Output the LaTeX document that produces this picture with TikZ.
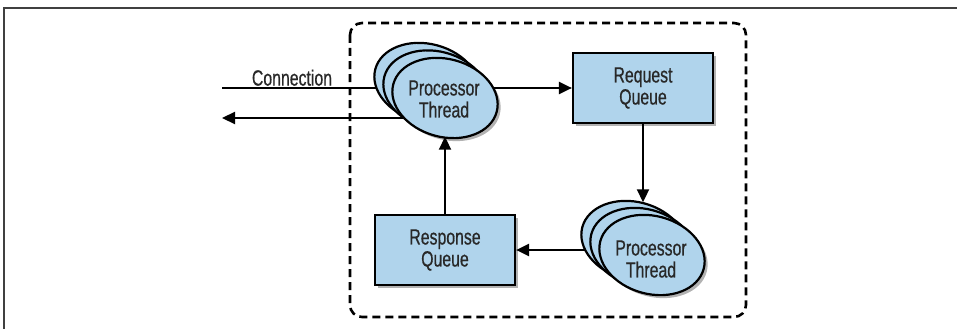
\documentclass[tikz,border=0pt]{standalone}
\usepackage{fontspec}
\setmainfont[FakeStretch=0.72,FakeBold=0.6]{Liberation Sans}
\usepackage{xcolor}
\usetikzlibrary{arrows.meta,shapes.geometric,shadows,backgrounds}
\definecolor{qblue}{RGB}{176,212,236}
\definecolor{txtgray}{RGB}{40,40,40}

\begin{document}
\begin{tikzpicture}[x=1pt,y=-1pt]
\tikzset{
    every node/.style={font=\fontsize{22}{22}\selectfont, text=txtgray, align=center},
    shade/.style={drop shadow={shadow xshift=3pt, shadow yshift=-3pt, opacity=0.3, fill=black}},
    queue/.style={draw, line width=2.2pt, fill=qblue, minimum width=140pt, minimum height=70pt, shade},
    proc/.style={ellipse, draw, line width=2.2pt, fill=qblue, minimum width=107pt, minimum height=78pt, inner sep=0pt, rotate=-15, shade},
    arr/.style={line width=2.2pt, -{Triangle[length=13pt,width=12pt]}}
}
\useasboundingbox (0,0) rectangle (957,329);

% page frame
\draw[line width=1.6pt, black!75] (957,8) -- (4,8) -- (4,329);

% queues
\node[queue] (reqq) at (643,88) {Request\\Queue};
\node[queue] (resq) at (445,250) {Response\\Queue};

% processor threads
\node[proc] (pta3) at (427,83) {};
\node[proc] (pta2) at (436,90.5) {};
\node[proc] (pta)  at (445,98) {};
\node (ptatext) at (444,99) {Processor\\Thread};

\node[proc] (ptb3) at (634,241) {};
\node[proc] (ptb2) at (643,248) {};
\node[proc] (ptb)  at (652,255) {};
\node (ptbtext) at (651,259) {Processor\\Thread};

% connection side
\coordinate (conn) at (222,88);
\coordinate (ret) at (222,118);
\node (conlbl) [above, inner sep=2pt] at (292,88) {Connection};

\begin{scope}[on background layer]
\draw[line width=2.6pt, dash pattern=on 8pt off 5pt, rounded corners=12pt] (350,23) rectangle (746,317);
\draw[arr] (conn) -- (reqq.west);
\draw[arr] (pta.center |- ret) -- (ret);
\draw[arr] (ptb.center |- resq.east) -- (resq.east);
\end{scope}

\draw[arr] (reqq.south) -- (reqq.south |- ptb3.north);
\draw[arr] (resq.north) -- (resq.north |- pta.south);

\end{tikzpicture}
\end{document}
